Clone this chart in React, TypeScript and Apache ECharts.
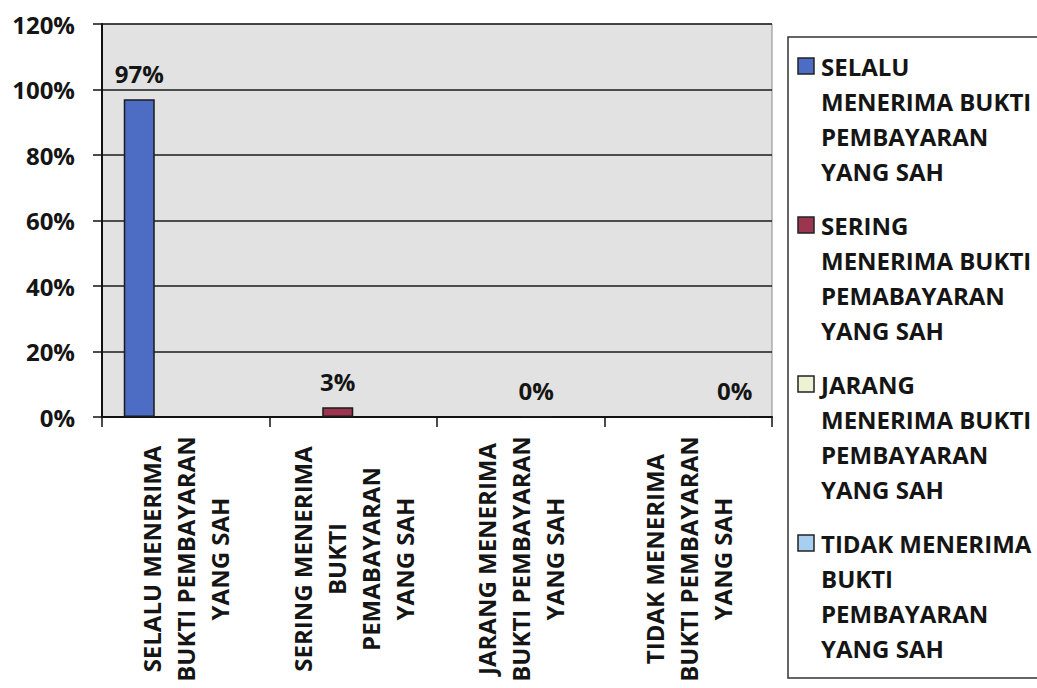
import React, { useEffect, useRef } from "react";
import * as echarts from "echarts";

const categories = [
  "SELALU MENERIMA\nBUKTI PEMBAYARAN\nYANG SAH",
  "SERING MENERIMA\nBUKTI\nPEMABAYARAN\nYANG SAH",
  "JARANG MENERIMA\nBUKTI PEMBAYARAN\nYANG SAH",
  "TIDAK MENERIMA\nBUKTI PEMBAYARAN\nYANG SAH",
];

const seriesNames = [
  "SELALU MENERIMA BUKTI PEMBAYARAN YANG SAH",
  "SERING MENERIMA BUKTI PEMABAYARAN YANG SAH",
  "JARANG MENERIMA BUKTI PEMBAYARAN YANG SAH",
  "TIDAK MENERIMA BUKTI PEMBAYARAN YANG SAH",
];

const legendLines = [
  ["SELALU", "MENERIMA BUKTI", "PEMBAYARAN", "YANG SAH"],
  ["SERING", "MENERIMA BUKTI", "PEMABAYARAN", "YANG SAH"],
  ["JARANG", "MENERIMA BUKTI", "PEMBAYARAN", "YANG SAH"],
  ["TIDAK MENERIMA", "BUKTI", "PEMBAYARAN", "YANG SAH"],
];

const selalu = [97, null, null, null];
const sering = [null, 3, null, null];
const jarang = [null, null, 0, null];
const tidak = [null, null, null, 0];

const seriesValues = [selalu, sering, jarang, tidak];
const seriesColors = ["#4d6cc4", "#9c3550", "#eef2d4", "#a6cff2"];

const FONT = '"Open Sans", "Liberation Sans", sans-serif';

export default function App() {
  const ref = useRef<HTMLDivElement>(null);

  useEffect(() => {
    if (!ref.current) return;
    const chart = echarts.init(ref.current, null, { renderer: "svg" });

    chart.setOption({
      animation: false,
      backgroundColor: "#ffffff",
      grid: {
        left: 102,
        right: 265,
        top: 24,
        bottom: 271,
        show: true,
        backgroundColor: "#e2e2e2",
        borderColor: "#8a8a8a",
        borderWidth: 1,
      },
      xAxis: {
        type: "category",
        data: categories,
        axisLine: { show: true, lineStyle: { color: "#111111", width: 2 } },
        axisTick: { show: true, alignWithLabel: false, length: 10, lineStyle: { color: "#111111", width: 1.5 } },
        axisLabel: { show: false },
      },
      yAxis: {
        type: "value",
        min: 0,
        max: 120,
        interval: 20,
        axisLine: { show: true, lineStyle: { color: "#111111", width: 2 } },
        axisTick: { show: true, length: 9, lineStyle: { color: "#111111", width: 1.5 } },
        axisLabel: {
          formatter: "{value}%",
          margin: 27,
          fontSize: 24,
          fontWeight: "bold",
          fontFamily: FONT,
          color: "#151515",
        },
        splitLine: { show: true, lineStyle: { color: "#1a1a1a", width: 1.5 } },
      },
      series: seriesValues.map((vals, i) => ({
        type: "bar",
        name: seriesNames[i],
        data: vals,
        barWidth: 31,
        barGap: "0%",
        itemStyle: { color: seriesColors[i], borderColor: "#1a1a1a", borderWidth: 1.5 },
        label: {
          show: true,
          position: "top",
          distance: 14,
          formatter: "{c}%",
          fontSize: 24,
          fontWeight: "bold",
          fontFamily: FONT,
          color: "#151515",
        },
      })),
    });

    const graphics: any[] = [
      {
        type: "rect",
        shape: { x: 788, y: 37, width: 270, height: 641 },
        style: { fill: "#ffffff", stroke: "#333333", lineWidth: 1.5 },
        z: 1,
      },
    ];
    const firstCenters = [66, 225, 384, 543];
    legendLines.forEach((lines, i) => {
      const cy = firstCenters[i];
      graphics.push({
        type: "rect",
        shape: { x: 798, y: cy - 8, width: 16, height: 16 },
        style: { fill: seriesColors[i], stroke: "#222222", lineWidth: 1.5 },
        z: 2,
      });
      graphics.push({
        type: "text",
        x: 821,
        y: cy - 17.5,
        style: {
          text: lines.join("\n"),
          font: `bold 24px ${FONT}`,
          fill: "#151515",
          lineHeight: 35,
          verticalAlign: "top",
          align: "left",
        },
        z: 2,
      });
    });

    // category labels: rotated, each line centred, via the axis scale
    const [, axisY] = chart.convertToPixel({ gridIndex: 0 }, [0, 0]) as number[];
    categories.forEach((cat, i) => {
      const cx = chart.convertToPixel({ xAxisIndex: 0 }, i) as number;
      const lines = cat.split("\n");
      const n = lines.length;
      lines.forEach((line, j) => {
        graphics.push({
          type: "text",
          x: cx + (j - (n - 1) / 2) * 34,
          y: axisY + 142,
          rotation: Math.PI / 2,
          style: {
            text: line,
            font: `bold 24px ${FONT}`,
            fill: "#151515",
            align: "center",
            verticalAlign: "middle",
          },
          z: 2,
        });
      });
    });

    chart.setOption({ graphic: graphics });

    return () => chart.dispose();
  }, []);

  return (
    <div
      ref={ref}
      style={{ position: "absolute", left: 0, top: 0, width: 1037, height: 688 }}
    />
  );
}
